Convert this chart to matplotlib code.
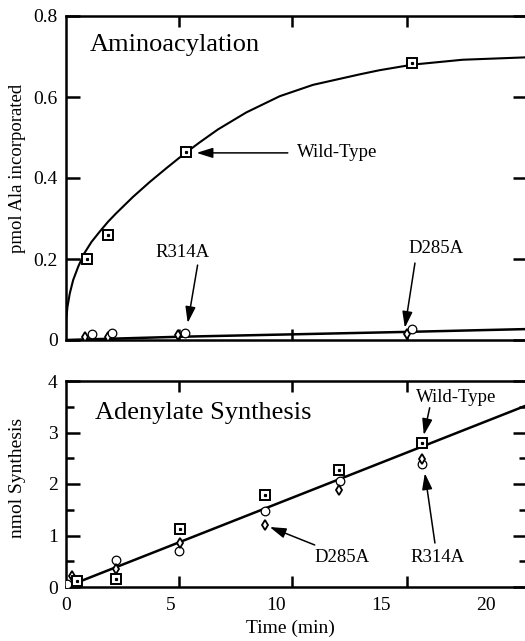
import matplotlib
matplotlib.use("Agg")
import matplotlib.pyplot as plt
from matplotlib.ticker import FixedLocator

plt.rcParams['font.family'] = ['Liberation Serif', 'DejaVu Serif']

# ---------------- data: aminoacylation (top) ----------------
wt_amino_t = [1.0, 2.0, 5.7, 16.45]
wt_amino_y = [0.20, 0.26, 0.465, 0.685]
r314a_amino_t = [1.25, 2.2, 5.65, 16.45]
r314a_amino_y = [0.016, 0.017, 0.017, 0.026]
d285a_amino_t = [0.9, 2.0, 5.35, 16.2]
d285a_amino_y = [0.008, 0.008, 0.012, 0.016]
# fitted curves
wt_fit_t = [0.0, 0.01, 0.07, 0.18, 0.34, 0.58, 0.87, 1.21, 1.61, 2.0, 2.39, 3.18,
            3.98, 4.77, 5.56, 6.36, 7.23, 8.58, 10.17, 11.75, 13.98, 14.9, 16.5,
            18.87, 21.93]
wt_fit_y = [0.0, 0.049, 0.082, 0.115, 0.148, 0.181, 0.214, 0.242, 0.268, 0.292,
            0.313, 0.353, 0.390, 0.424, 0.457, 0.488, 0.520, 0.562, 0.602, 0.630,
            0.656, 0.666, 0.680, 0.692, 0.698]
mut_fit_t = [0.0, 5.4, 16.2, 21.93]
mut_fit_y = [0.0, 0.008, 0.02, 0.027]

# ---------------- data: adenylate synthesis (bottom) ----------------
wt_aden_t = [0.5, 2.4, 5.4, 9.45, 13.0, 16.95]
wt_aden_y = [0.12, 0.16, 1.12, 1.79, 2.28, 2.79]
r314a_aden_t = [0.06, 2.4, 5.38, 9.45, 13.05, 16.95]
r314a_aden_y = [0.06, 0.52, 0.70, 1.48, 2.06, 2.38]
d285a_aden_t = [0.3, 2.4, 5.4, 9.45, 13.0, 16.95]
d285a_aden_y = [0.22, 0.34, 0.85, 1.20, 1.88, 2.49]
aden_fit_t = [0.3, 21.93]
aden_fit_y = [0.05, 3.53]

x_tick_labels = ['0', '5', '10', '15', '20']
x_tick_vals = [0, 5, 10, 15, 20]
x_tick_marks = [5.38, 10.76, 16.24]

W, H = 525, 641
fig = plt.figure(figsize=(W / 100, H / 100), dpi=100)

ax1 = fig.add_axes([66 / W, (H - 340) / H, (527 - 66) / W, 324 / H])
ax2 = fig.add_axes([66 / W, (H - 587) / H, (527 - 66) / W, 206 / H])

sq_kw = dict(marker='s', ms=6.5, mfc='white', mec='black', mew=1.4, ls='none', zorder=5)
dot_kw = dict(marker='s', ms=1.3, mfc='black', mec='black', ls='none', zorder=6)
ci_kw = dict(marker='o', ms=6.2, mfc='white', mec='black', mew=0.9, ls='none', zorder=4)
di_kw = dict(marker='d', ms=5.5, mfc='white', mec='black', mew=1.3, ls='none', zorder=4)

# top panel
ax1.plot(wt_fit_t, wt_fit_y, color='black', lw=1.5, zorder=3, solid_joinstyle='round')
ax1.plot(mut_fit_t, mut_fit_y, color='black', lw=1.8, zorder=3)
ax1.plot(d285a_amino_t, d285a_amino_y, **di_kw)
ax1.plot(r314a_amino_t, r314a_amino_y, **ci_kw)
ax1.plot(wt_amino_t, wt_amino_y, **sq_kw)
ax1.plot(wt_amino_t, wt_amino_y, **dot_kw)

# bottom panel
ax2.plot(aden_fit_t, aden_fit_y, color='black', lw=1.8, zorder=3)
ax2.plot(r314a_aden_t, r314a_aden_y, **ci_kw)
ax2.plot(d285a_aden_t, d285a_aden_y, **di_kw)
ax2.plot(wt_aden_t, wt_aden_y, **sq_kw)
ax2.plot(wt_aden_t, wt_aden_y, **dot_kw)

for ax in (ax1, ax2):
    ax.set_xlim(0, 21.93)
    for s in ax.spines.values():
        s.set_linewidth(1.8)
    ax.tick_params(axis='both', which='both', direction='in', top=True, right=True,
                   labelsize=14, width=1.8, colors='black')
    ax.xaxis.set_major_locator(FixedLocator(x_tick_vals))
    ax.xaxis.set_minor_locator(FixedLocator(x_tick_marks))
    ax.tick_params(axis='x', which='major', length=0, pad=7)
    ax.tick_params(axis='x', which='minor', length=8)
    ax.tick_params(axis='y', which='major', length=10, pad=6)
    ax.tick_params(axis='y', which='minor', length=6)

ax1.set_ylim(0, 0.8)
ax1.set_yticks([0, 0.2, 0.4, 0.6, 0.8])
ax1.set_yticklabels(['0', '0.2', '0.4', '0.6', '0.8'])
ax1.set_xticklabels([])

ax2.set_ylim(0, 4)
ax2.set_yticks([0, 1, 2, 3, 4])
ax2.set_yticklabels(['0', '1', '2', '3', '4'])
ax2.yaxis.set_minor_locator(FixedLocator([0.5, 1.5, 2.5, 3.5]))
ax2.set_xticklabels(x_tick_labels)

ax1.text(0.052, 0.91, 'Aminoacylation', transform=ax1.transAxes, fontsize=19,
         ha='left', va='center')
ax2.text(0.063, 0.845, 'Adenylate Synthesis', transform=ax2.transAxes, fontsize=19,
         ha='left', va='center')

fig.text(18 / W, 1 - 168 / H, 'pmol Ala incorporated', rotation=90, fontsize=13.5,
         ha='center', va='center')
fig.text(18 / W, 1 - 478 / H, 'nmol Synthesis', rotation=90, fontsize=14,
         ha='center', va='center')
fig.text(290 / W, 1 - 628 / H, 'Time (min)', fontsize=14, ha='center', va='center')

arw = dict(arrowstyle='-|>,head_length=0.7,head_width=0.22', lw=1.1, color='black',
           shrinkA=0, shrinkB=0, mutation_scale=14)

def label(ax, text, txy, tail, head, ha='center'):
    ax.text(txy[0], txy[1], text, fontsize=13.5, ha=ha, va='center')
    ax.annotate('', xy=head, xytext=tail, arrowprops=arw)

label(ax1, 'Wild-Type', (10.98, 0.464), (10.55, 0.462), (6.21, 0.462), ha='left')
label(ax1, 'R314A', (5.55, 0.217), (6.26, 0.185), (5.79, 0.042))
label(ax1, 'D285A', (17.6, 0.227), (16.6, 0.19), (16.12, 0.03))

label(ax2, 'Wild-Type', (18.55, 3.67), (17.3, 3.48), (17.02, 2.95))
label(ax2, 'D285A', (13.14, 0.58), (11.83, 0.816), (9.69, 1.165))
label(ax2, 'R314A', (17.67, 0.58), (17.55, 0.854), (17.07, 2.21))

fig.savefig('out.png', dpi=100)
